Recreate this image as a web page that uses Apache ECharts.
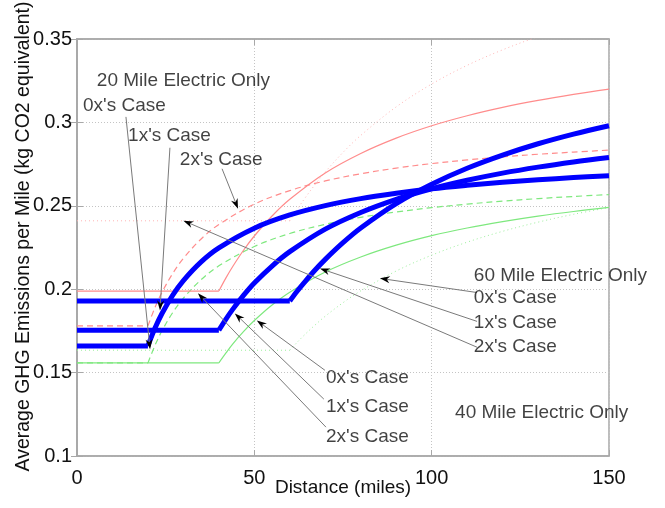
<!DOCTYPE html>
<html>
<head>
<meta charset="utf-8">
<script src="https://cdn.jsdelivr.net/npm/echarts@6/dist/echarts.min.js"></script>
<style>
html,body{margin:0;padding:0;background:#fff;}
#chart{width:665px;height:508px;}
</style>
</head>
<body>
<div id="chart"></div>
<script>
// Distances (miles) sampled for each electric range
const dist20 = [0, 20, 22, 24, 27, 30, 35, 40, 50, 60, 70, 80, 90, 100, 110, 120, 130, 140, 150];
const dist40 = [0, 40, 42, 44, 47, 50, 55, 60, 70, 80, 90, 100, 110, 120, 130, 140, 150];
const dist60 = [0, 60, 62, 64, 67, 70, 75, 80, 90, 100, 110, 120, 130, 140, 150];

// 20 mile electric only
const blue20  = [0.166, 0.166, 0.1767, 0.1856, 0.1965, 0.2052, 0.2164, 0.2248, 0.2366, 0.2445, 0.2501, 0.2543, 0.2575, 0.2602, 0.2623, 0.2641, 0.2656, 0.2669, 0.2680];
const red20   = [0.178, 0.178, 0.1891, 0.1983, 0.2095, 0.2185, 0.2301, 0.2388, 0.2510, 0.2591, 0.2649, 0.2692, 0.2726, 0.2753, 0.2775, 0.2793, 0.2809, 0.2822, 0.2834];
const green20 = [0.1558, 0.1558, 0.1664, 0.1752, 0.1860, 0.1946, 0.2057, 0.2140, 0.2256, 0.2334, 0.2389, 0.2431, 0.2463, 0.2489, 0.2510, 0.2528, 0.2543, 0.2556, 0.2567];
// 40 mile electric only
const blue40  = [0.1754, 0.1754, 0.1821, 0.1882, 0.1964, 0.2037, 0.2139, 0.2225, 0.2360, 0.2460, 0.2539, 0.2602, 0.2653, 0.2696, 0.2732, 0.2763, 0.2790];
const red40   = [0.1989, 0.1989, 0.2068, 0.2139, 0.2235, 0.2319, 0.2439, 0.2539, 0.2697, 0.2814, 0.2906, 0.2980, 0.3040, 0.3090, 0.3132, 0.3168, 0.3200];
const green40 = [0.1558, 0.1558, 0.1618, 0.1674, 0.1747, 0.1812, 0.1905, 0.1982, 0.2103, 0.2193, 0.2264, 0.2321, 0.2367, 0.2405, 0.2438, 0.2466, 0.2490];
// 60 mile electric only
const blue60  = [0.1929, 0.1929, 0.1986, 0.2038, 0.2112, 0.2179, 0.2279, 0.2367, 0.2513, 0.2629, 0.2725, 0.2804, 0.2872, 0.2930, 0.2980];
const red60   = [0.241, 0.241, 0.2476, 0.2538, 0.2624, 0.2703, 0.2820, 0.2922, 0.3093, 0.3230, 0.3342, 0.3435, 0.3514, 0.3581, 0.3640];
const green60 = [0.1634, 0.1634, 0.1680, 0.1723, 0.1783, 0.1838, 0.1919, 0.1990, 0.2109, 0.2204, 0.2282, 0.2347, 0.2402, 0.2449, 0.2490];

// Axis ticks
const xTicks = [0, 50, 100, 150];
const yTicks = [0.1, 0.15, 0.2, 0.25, 0.3, 0.35];

// Annotation texts and their anchors (data coordinates)
const noteTexts = ["20 Mile Electric Only", "0x's Case", "1x's Case", "2x's Case",
                   "60 Mile Electric Only", "0x's Case", "1x's Case", "2x's Case",
                   "0x's Case", "1x's Case", "2x's Case", "40 Mile Electric Only"];
const noteAnchors = [[5.6, 0.3249], [1.7, 0.310], [14.4, 0.292], [29.0, 0.2776],
                     [111.9, 0.2083], [111.9, 0.195], [111.9, 0.180], [111.9, 0.1652],
                     [70.2, 0.1467], [70.2, 0.1293], [70.2, 0.1114], [106.6, 0.1257]];
// Arrows: [fromX, fromY, toX, toY]
const arrows = [
  [13.8, 0.3033, 20.6, 0.1640],
  [26.2, 0.2848, 23.4, 0.1873],
  [40.9, 0.2722, 45.4, 0.2483],
  [112.8, 0.1980, 85.4, 0.2065],
  [112.8, 0.1807, 68.5, 0.2124],
  [112.8, 0.1652, 30.0, 0.2411],
  [69.9, 0.1514, 50.7, 0.1813],
  [69.6, 0.1341, 44.5, 0.1855],
  [70.2, 0.1173, 34.1, 0.1975]
];

function pairs(xs, ys) { return xs.map((x, i) => [x, ys[i]]); }

const FONT = 'Liberation Sans, Arial, sans-serif';
const TXT = '#111';
const axisCol = '#a8a8a8';

// flat part (straight) + rising part (smoothed) of one curve
function curve(xs, ys, color, width, type) {
  const pts = pairs(xs, ys);
  const common = {
    type: 'line', showSymbol: false, symbol: 'none', clip: true, silent: true,
    lineStyle: { color: color, width: width, type: type, cap: 'butt', join: 'round' },
    z: width > 2 ? 4 : 3
  };
  return [
    Object.assign({}, common, { data: pts.slice(0, 2), smooth: false }),
    Object.assign({}, common, { data: pts.slice(1), smooth: 0.35 })
  ];
}

const chart = echarts.init(document.getElementById('chart'), null, { renderer: 'canvas' });

const baseX = { type: 'value', min: 0, max: 150, interval: 50 };
const baseY = { type: 'value', min: 0.1, max: 0.35, interval: 0.05 };

const option = {
  animation: false,
  backgroundColor: '#ffffff',
  grid: { left: 77, right: 56, top: 39, bottom: 52, containLabel: false, outerBoundsMode: 'none',
          show: true, borderColor: axisCol, borderWidth: 1.5, backgroundColor: 'transparent' },
  xAxis: [
    Object.assign({}, baseX, {
      position: 'bottom',
      name: 'Distance (miles)', nameLocation: 'middle', nameGap: 22, nameMoveOverlap: false,
      nameTextStyle: { fontFamily: FONT, fontSize: 19, color: TXT },
      axisLine: { show: true, lineStyle: { color: axisCol, width: 1.5 } },
      axisTick: { show: true, inside: true, length: 6, lineStyle: { color: axisCol } },
      axisLabel: { fontFamily: FONT, fontSize: 20, color: TXT, margin: 12 },
      splitLine: { show: true, lineStyle: { color: '#c4c4c4', type: [1, 2], width: 1 } }
    }),
    Object.assign({}, baseX, {
      position: 'top',
      axisLine: { show: true, lineStyle: { color: axisCol, width: 1.5 } },
      axisTick: { show: true, inside: true, length: 6, lineStyle: { color: axisCol } },
      axisLabel: { show: false },
      splitLine: { show: false }
    })
  ],
  yAxis: [
    Object.assign({}, baseY, {
      position: 'left',
      name: 'Average GHG Emissions per Mile (kg CO2 equivalent)', nameLocation: 'middle', nameGap: 43, nameMoveOverlap: false,
      nameTextStyle: { fontFamily: FONT, fontSize: 19.5, color: TXT, padding: [0, 0, 0, 22] },
      axisLine: { show: true, lineStyle: { color: axisCol, width: 1.5 } },
      axisTick: { show: true, inside: true, length: 6, lineStyle: { color: axisCol } },
      axisLabel: { fontFamily: FONT, fontSize: 20, color: TXT, margin: 5 },
      splitLine: { show: true, lineStyle: { color: '#c4c4c4', type: [1, 2], width: 1 } }
    }),
    Object.assign({}, baseY, {
      position: 'right',
      axisLine: { show: true, lineStyle: { color: axisCol, width: 1.5 } },
      axisTick: { show: true, inside: true, length: 6, lineStyle: { color: axisCol } },
      axisLabel: { show: false },
      splitLine: { show: false }
    })
  ],
  series: [].concat(
    curve(dist60, red60, '#ffb4b4', 1, [1, 3]),
    curve(dist60, green60, '#9cf09c', 1, [1, 3]),
    curve(dist20, red20, '#ff8c8c', 1.2, [6, 4]),
    curve(dist20, green20, '#7ee87e', 1.2, [6, 4]),
    curve(dist40, red40, '#ff8c8c', 1.2, 'solid'),
    curve(dist40, green40, '#7ee87e', 1.2, 'solid'),
    curve(dist20, blue20, '#0000ff', 5, 'solid'),
    curve(dist40, blue40, '#0000ff', 5, 'solid'),
    curve(dist60, blue60, '#0000ff', 5, 'solid'),
    [{
      type: 'custom', silent: true, clip: false, z: 6,
      data: arrows,
      encode: { x: [0, 2], y: [1, 3] },
      renderItem: function (params, api) {
        const p1 = api.coord([api.value(0), api.value(1)]);
        const p2 = api.coord([api.value(2), api.value(3)]);
        const dx = p2[0] - p1[0], dy = p2[1] - p1[1];
        const len = Math.sqrt(dx * dx + dy * dy);
        const ux = dx / len, uy = dy / len;
        const nx = -uy, ny = ux;
        const L = 10, W = 7;
        const bx = p2[0] - ux * L, by = p2[1] - uy * L;
        const mx = p2[0] - ux * L * 0.7, my = p2[1] - uy * L * 0.7;
        return {
          type: 'group',
          children: [
            { type: 'line', shape: { x1: p1[0], y1: p1[1], x2: mx, y2: my },
              style: { stroke: '#7a7a7a', lineWidth: 1 } },
            { type: 'polygon', shape: { points: [[p2[0], p2[1]], [bx + nx * W / 2, by + ny * W / 2], [mx, my], [bx - nx * W / 2, by - ny * W / 2]] },
              style: { fill: '#000' } }
          ]
        };
      }
    },
    {
      type: 'scatter', silent: true, z: 7, symbolSize: 0,
      data: noteAnchors,
      label: {
        show: true, position: [0, 0], align: 'left', verticalAlign: 'middle',
        fontFamily: FONT, fontSize: 19, color: TXT,
        formatter: function (p) { return noteTexts[p.dataIndex]; }
      }
    }]
  )
};
chart.setOption(option);
</script>
</body>
</html>
